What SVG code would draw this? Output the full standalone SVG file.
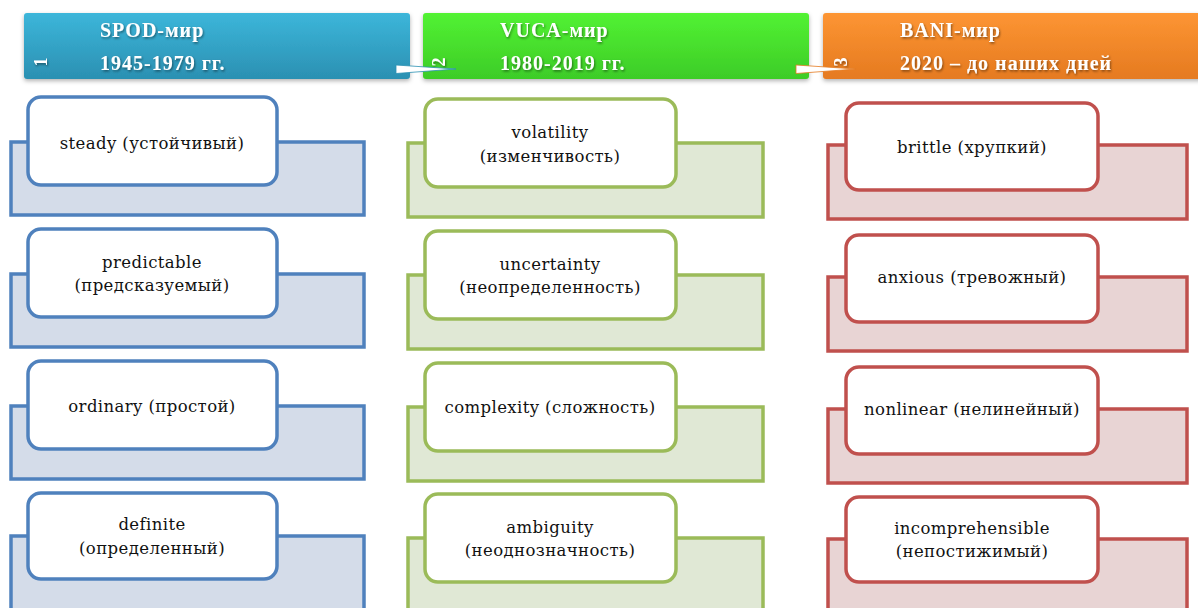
<svg xmlns="http://www.w3.org/2000/svg" width="1198" height="608" viewBox="0 0 1198 608">
<defs>
  <linearGradient id="gBlue" x1="0" y1="0" x2="0" y2="1">
    <stop offset="0" stop-color="#3cb6da"/><stop offset="1" stop-color="#2b90b2"/>
  </linearGradient>
  <linearGradient id="gGreen" x1="0" y1="0" x2="0" y2="1">
    <stop offset="0" stop-color="#52f232"/><stop offset="1" stop-color="#3dcc28"/>
  </linearGradient>
  <linearGradient id="gOrange" x1="0" y1="0" x2="0" y2="1">
    <stop offset="0" stop-color="#fd9533"/><stop offset="1" stop-color="#e57a20"/>
  </linearGradient>
  <filter id="hdrShadow" x="-5%" y="-20%" width="110%" height="150%">
    <feDropShadow dx="0" dy="2" stdDeviation="2" flood-color="#000" flood-opacity="0.3"/>
  </filter>
  <filter id="txtShadow" x="-10%" y="-30%" width="120%" height="160%">
    <feDropShadow dx="1" dy="1.5" stdDeviation="1" flood-color="#000" flood-opacity="0.45"/>
  </filter>
  <style>
    .hdr-title { font-family: "Liberation Serif", "Times New Roman", serif; font-weight: bold; font-size: 20px; letter-spacing: 1px; fill: #ffffff; }
    .hdr-num { font-family: "Liberation Serif", "Times New Roman", serif; font-weight: bold; font-size: 18px; fill: #ffffff; }
    .lbl { font-family: "DejaVu Serif", "Liberation Serif", serif; font-size: 16.5px; letter-spacing: 0.4px; fill: #111111; text-anchor: middle; }
    .blue .back { fill: #d4dce9; stroke: #4f81bd; stroke-width: 3.5; }
    .blue .front { fill: #ffffff; stroke: #4f81bd; stroke-width: 3.5; }
    .green .back { fill: #e0e8d5; stroke: #9bbb59; stroke-width: 3.5; }
    .green .front { fill: #ffffff; stroke: #9bbb59; stroke-width: 3.5; }
    .red .back { fill: #e8d4d4; stroke: #c0504d; stroke-width: 3.5; }
    .red .front { fill: #ffffff; stroke: #c0504d; stroke-width: 3.5; }
  </style>
</defs>
<rect width="1198" height="608" fill="#ffffff"/>

<!-- Headers -->
<g id="hdr-spod" filter="url(#hdrShadow)">
  <rect x="24" y="13" width="386" height="66" rx="3" fill="url(#gBlue)"/>
</g>
<g id="hdr-spod-text" filter="url(#txtShadow)">
  <text class="hdr-title" x="100" y="37">SPOD-мир</text>
  <text class="hdr-title" x="100" y="70">1945-1979 гг.</text>
  <text class="hdr-num" transform="translate(47,62) rotate(-90)" text-anchor="middle">1</text>
</g>

<g id="hdr-vuca" filter="url(#hdrShadow)">
  <rect x="423" y="13" width="386" height="66" rx="3" fill="url(#gGreen)"/>
</g>
<g id="hdr-vuca-text" filter="url(#txtShadow)">
  <text class="hdr-title" x="500" y="37">VUCA-мир</text>
  <text class="hdr-title" x="500" y="70">1980-2019 гг.</text>
  <text class="hdr-num" transform="translate(445,62) rotate(-90)" text-anchor="middle">2</text>
</g>

<g id="hdr-bani" filter="url(#hdrShadow)">
  <rect x="823" y="13" width="380" height="66" rx="3" fill="url(#gOrange)"/>
</g>
<g id="hdr-bani-text" filter="url(#txtShadow)">
  <text class="hdr-title" x="900" y="37">BANI-мир</text>
  <text class="hdr-title" x="900" y="70">2020 – до наших дней</text>
  <text class="hdr-num" transform="translate(847,62) rotate(-90)" text-anchor="middle">3</text>
</g>

<!-- Connectors -->
<g id="connectors">
  <polygon points="396,65 396,73.5 456,69" fill="#ffffff" stroke="#2b90b2" stroke-width="0.8" stroke-linejoin="round"/>
  <polygon points="796,65 796,73.5 856,69" fill="#ffffff" stroke="#e57a20" stroke-width="0.8" stroke-linejoin="round"/>
</g>

<!-- Blue column -->
<g class="blue">
  <g id="spod-steady">
    <rect class="back" x="11" y="142" width="353" height="73"/>
    <rect class="front" x="28" y="97" width="249" height="88" rx="13"/>
    <text class="lbl" x="152" y="149">steady (устойчивый)</text>
  </g>
  <g id="spod-predictable">
    <rect class="back" x="11" y="274" width="353" height="73"/>
    <rect class="front" x="28" y="229" width="249" height="88" rx="13"/>
    <text class="lbl" x="152" y="268">predictable</text>
    <text class="lbl" x="152" y="291">(предсказуемый)</text>
  </g>
  <g id="spod-ordinary">
    <rect class="back" x="11" y="406" width="353" height="73"/>
    <rect class="front" x="28" y="361" width="249" height="88" rx="13"/>
    <text class="lbl" x="152" y="412">ordinary (простой)</text>
  </g>
  <g id="spod-definite">
    <rect class="back" x="11" y="536" width="353" height="80"/>
    <rect class="front" x="28" y="493" width="249" height="86" rx="13"/>
    <text class="lbl" x="152" y="530">definite</text>
    <text class="lbl" x="152" y="554">(определенный)</text>
  </g>
</g>

<!-- Green column -->
<g class="green">
  <g id="vuca-volatility">
    <rect class="back" x="408" y="143" width="355" height="74"/>
    <rect class="front" x="425" y="99" width="251" height="88" rx="13"/>
    <text class="lbl" x="550" y="138">volatility</text>
    <text class="lbl" x="550" y="162">(изменчивость)</text>
  </g>
  <g id="vuca-uncertainty">
    <rect class="back" x="408" y="275" width="355" height="74"/>
    <rect class="front" x="425" y="231" width="251" height="88" rx="13"/>
    <text class="lbl" x="550" y="270">uncertainty</text>
    <text class="lbl" x="550" y="293">(неопределенность)</text>
  </g>
  <g id="vuca-complexity">
    <rect class="back" x="408" y="407" width="355" height="74"/>
    <rect class="front" x="425" y="363" width="251" height="88" rx="13"/>
    <text class="lbl" x="550" y="413">complexity (сложность)</text>
  </g>
  <g id="vuca-ambiguity">
    <rect class="back" x="408" y="538" width="355" height="80"/>
    <rect class="front" x="425" y="494" width="251" height="88" rx="13"/>
    <text class="lbl" x="550" y="533">ambiguity</text>
    <text class="lbl" x="550" y="556">(неоднозначность)</text>
  </g>
</g>

<!-- Red column -->
<g class="red">
  <g id="bani-brittle">
    <rect class="back" x="828" y="145" width="359" height="74"/>
    <rect class="front" x="846" y="103" width="252" height="87" rx="13"/>
    <text class="lbl" x="972" y="153">brittle (хрупкий)</text>
  </g>
  <g id="bani-anxious">
    <rect class="back" x="828" y="277" width="359" height="74"/>
    <rect class="front" x="846" y="235" width="252" height="87" rx="13"/>
    <text class="lbl" x="972" y="283">anxious (тревожный)</text>
  </g>
  <g id="bani-nonlinear">
    <rect class="back" x="828" y="409" width="359" height="74"/>
    <rect class="front" x="846" y="367" width="252" height="87" rx="13"/>
    <text class="lbl" x="972" y="415">nonlinear (нелинейный)</text>
  </g>
  <g id="bani-incomprehensible">
    <rect class="back" x="828" y="539" width="359" height="80"/>
    <rect class="front" x="846" y="497" width="252" height="85" rx="13"/>
    <text class="lbl" x="972" y="534">incomprehensible</text>
    <text class="lbl" x="972" y="557">(непостижимый)</text>
  </g>
</g>
</svg>
